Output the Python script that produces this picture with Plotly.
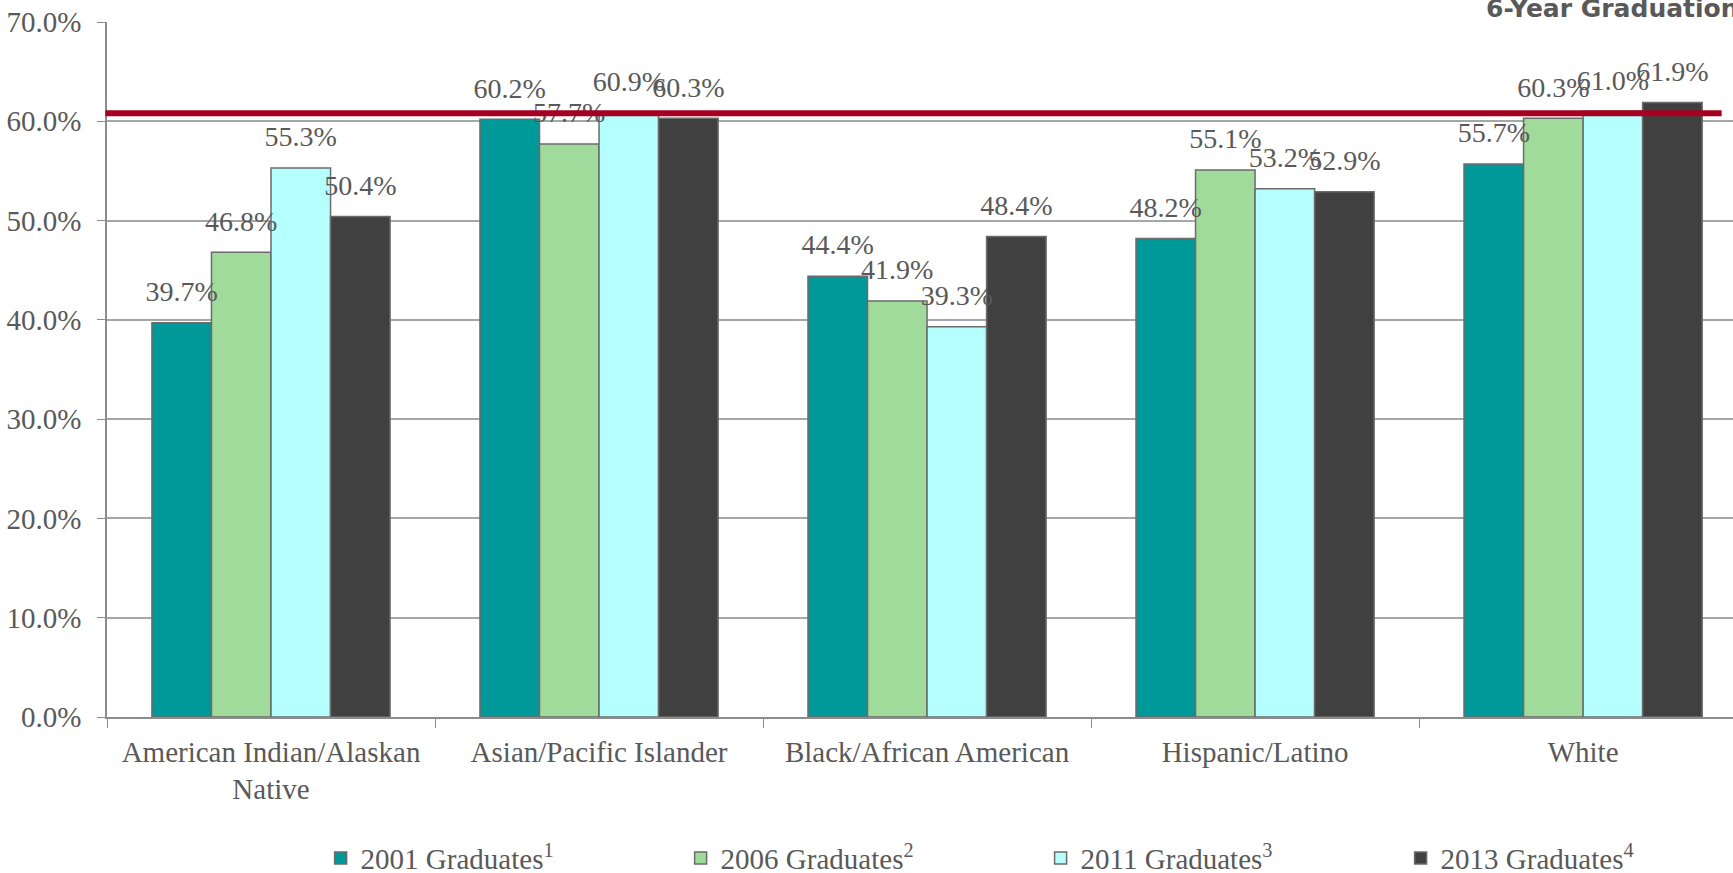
import plotly.graph_objects as go

# Graduation rates by race/ethnicity, four graduating cohorts
categories = [
    "American Indian/Alaskan<br>Native",
    "Asian/Pacific Islander",
    "Black/African American",
    "Hispanic/Latino",
    "White",
]
series_names = [
    "2001 Graduates<sup>1</sup>",
    "2006 Graduates<sup>2</sup>",
    "2011 Graduates<sup>3</sup>",
    "2013 Graduates<sup>4</sup>",
]
grad_2001 = [39.7, 60.2, 44.4, 48.2, 55.7]
grad_2006 = [46.8, 57.7, 41.9, 55.1, 60.3]
grad_2011 = [55.3, 60.9, 39.3, 53.2, 61.0]
grad_2013 = [50.4, 60.3, 48.4, 52.9, 61.9]
overall_rate = 60.8
y_ticks = [0, 10, 20, 30, 40, 50, 60, 70]

colors = ["#009999", "#A1DB9B", "#B5FFFF", "#404040"]
text_gray = "#595959"
serif = "Liberation Serif, Times New Roman, serif"
gap = 0.274

fig = go.Figure()
all_series = [grad_2001, grad_2006, grad_2011, grad_2013]
for i, (name, vals, col) in enumerate(zip(series_names, all_series, colors)):
    fig.add_trace(go.Bar(
        name=name,
        x=categories,
        y=vals,
        offsetgroup=str(i),
        marker=dict(color=col, line=dict(color="#6b6b6b", width=1.5)),
    ))

# value labels, lifted off the bar tops by an invisible marker
for i, vals in enumerate(all_series):
    fig.add_trace(go.Scatter(
        x=categories,
        y=vals,
        offsetgroup=str(i),
        mode="markers+text",
        marker=dict(size=22, color="rgba(0,0,0,0)"),
        text=[f"{v:.1f}%" for v in vals],
        textposition="top center",
        textfont=dict(family=serif, size=28, color=text_gray),
        showlegend=False,
        hoverinfo="skip",
        cliponaxis=False,
    ))

# overall graduation benchmark line
fig.add_shape(
    type="line", xref="paper", yref="y",
    x0=-0.001, x1=0.993, y0=overall_rate, y1=overall_rate,
    line=dict(color="#A50021", width=6),
    layer="above",
)

fig.add_annotation(
    text="<b>6-Year Graduation</b>",
    xref="paper", yref="paper", x=1, y=1,
    xanchor="right", yanchor="bottom",
    xshift=8, yshift=-3,
    showarrow=False,
    font=dict(family="DejaVu Sans, Verdana, sans-serif", size=25, color=text_gray),
)

fig.update_layout(
    width=1733, height=873,
    margin=dict(l=107, r=0, t=22, b=156),
    paper_bgcolor="white", plot_bgcolor="white",
    barmode="group", bargap=gap, bargroupgap=0,
    scattermode="group", scattergap=gap,
    showlegend=True,
    legend=dict(
        orientation="h",
        xref="container", yref="container",
        x=0.185, y=0.017, xanchor="left", yanchor="middle",
        entrywidth=315, entrywidthmode="pixels",
        font=dict(family=serif, size=29, color=text_gray),
        traceorder="normal",
    ),
    xaxis=dict(
        range=[-0.5, 4.457],
        showline=True, linecolor="#8c8c8c", linewidth=1.5,
        ticks="outside", tickson="boundaries", ticklen=9, tickcolor="#8c8c8c",
        tickfont=dict(family=serif, size=29, color=text_gray),
        ticklabelstandoff=8,
        showgrid=False,
    ),
    yaxis=dict(
        range=[0, 70],
        tickvals=y_ticks,
        ticktext=[f"{v:.1f}%" for v in y_ticks],
        showline=True, linecolor="#8c8c8c", linewidth=1.5,
        ticks="outside", ticklen=8, tickcolor="#8c8c8c",
        tickfont=dict(family=serif, size=29, color=text_gray),
        ticklabelstandoff=10,
        showgrid=True, gridcolor="#a6a6a6", gridwidth=1.5,
        zeroline=False,
    ),
)

fig.write_html("out.html")
